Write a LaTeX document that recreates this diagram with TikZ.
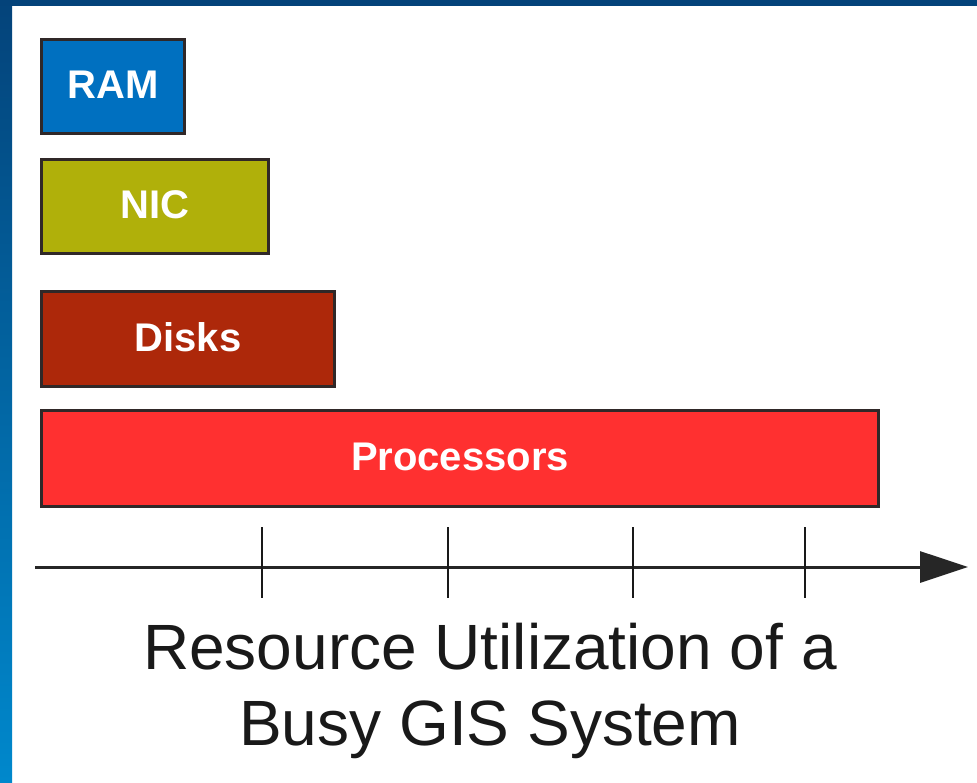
\documentclass[tikz,border=0pt]{standalone}
\usepackage{fontspec}
\setmainfont{Liberation Sans}
\usetikzlibrary{arrows.meta}
\definecolor{frametop}{HTML}{04437A}
\definecolor{framebot}{HTML}{0088CC}
\definecolor{ramc}{HTML}{0070C0}
\definecolor{nicc}{HTML}{B0B00A}
\definecolor{diskc}{HTML}{AD280A}
\definecolor{procc}{HTML}{FF3030}
\definecolor{edgec}{HTML}{302828}
\tikzset{
  bar/.style={draw=edgec, line width=3pt, inner sep=0pt, anchor=north west},
  lbl/.style={text=white, font=\bfseries\fontsize{40}{44}\selectfont, yshift=2pt},
  tick/.style={line width=2pt, draw=black!90},
}
\begin{document}
\begin{tikzpicture}[x=1pt,y=-1pt]
\useasboundingbox (0,0) rectangle (977,782);
\fill[white] (0,0) rectangle (977,782);
\shade[top color=frametop, bottom color=framebot] (0,0) rectangle (12,782);
\fill[frametop] (0,0) rectangle (977,6);
\node[bar, fill=ramc, minimum width=143pt, minimum height=94pt] (ram) at (40,38) {};
\node[lbl] at (ram.center) (ramt) {RAM};
\node[bar, fill=nicc, minimum width=227pt, minimum height=94pt] (nic) at (40,158) {};
\node[lbl] at (nic.center) (nict) {NIC};
\node[bar, fill=diskc, minimum width=293pt, minimum height=95pt] (disk) at (40,290) {};
\node[lbl] at (disk.center) (diskt) {Disks};
\node[bar, fill=procc, minimum width=837pt, minimum height=96pt] (proc) at (40,409) {};
\node[lbl] at (proc.center) (proct) {Processors};
\coordinate (a0) at (35,567);
\coordinate (a1) at (968,567);
\draw[line width=3pt, draw=black!85, -{Triangle[length=48pt,width=31pt]}] (a0) -- (a1);
\foreach \x/\n in {262/t1,448/t2,633/t3,805/t4}{
  \coordinate (\n a) at (\x,527);
  \coordinate (\n b) at (\x,598);
  \draw[tick] (\n a) -- (\n b);
}
\node[align=center, font=\fontsize{64}{76}\selectfont, text=black!90, anchor=north] (cap) at (490,620) {Resource Utilization of a\\Busy GIS System};
\end{tikzpicture}
\end{document}
